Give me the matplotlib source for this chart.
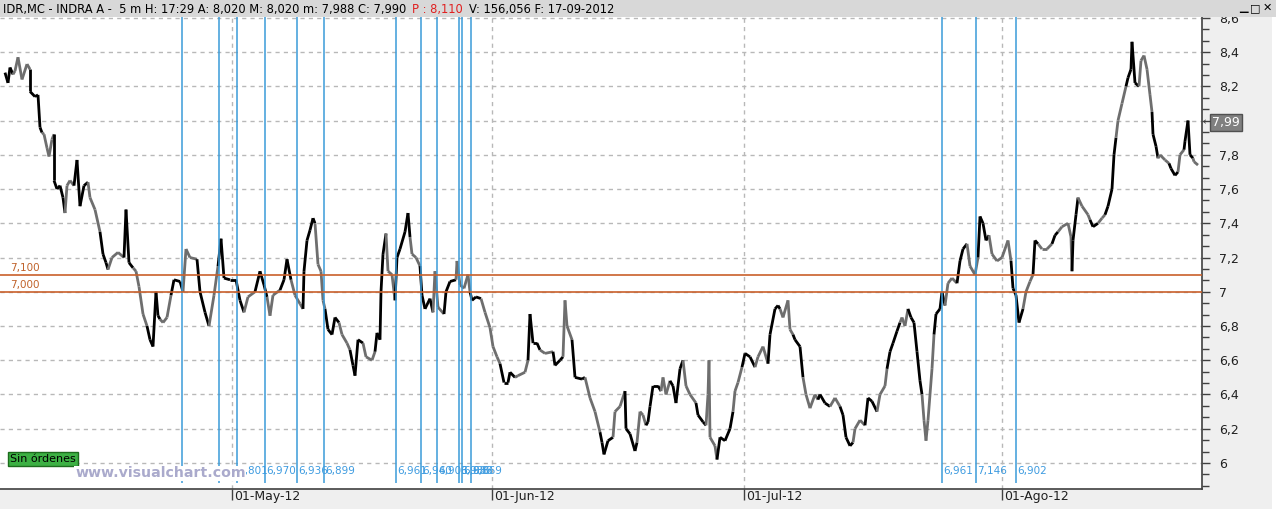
import matplotlib
matplotlib.use("Agg")
import matplotlib.pyplot as plt
from matplotlib.collections import LineCollection
from matplotlib.patches import Rectangle
from matplotlib.ticker import FixedLocator, AutoMinorLocator


# Price path (x = chart column, one run per line, k = black / g = gray)
bar_idx = [
    5, 8, 10, 13,
    15, 18, 22, 27, 30,
    30, 35, 38, 40, 42,
    44, 47, 49, 52, 54,
    54, 57, 60, 63, 65,
    67, 70, 74,
    77, 80, 84, 88,
    90, 95, 100,
    103, 106, 108,
    112, 118, 124,
    126, 129, 133,
    136, 139, 143, 147,
    150, 153, 156, 158, 160,
    163, 167, 171,
    174, 180, 183,
    186, 190, 197,
    200, 205, 209,
    214, 218,
    221, 224, 230, 236, 240, 244,
    248, 255,
    260, 264, 267,
    270, 273, 280,
    284, 287, 291,
    295, 300, 303,
    304, 307, 310, 313, 315,
    318, 321, 323, 325,
    328, 332, 335, 339,
    342, 347, 350,
    353, 355, 358, 363,
    366, 372, 375,
    377, 380, 381, 383, 386,
    388, 392, 395,
    397, 400, 405, 408, 410,
    412, 416, 420,
    422, 425, 430, 433,
    435, 438, 444,
    446, 450, 456,
    457, 460, 464, 468, 470,
    472, 476, 481,
    485, 490, 493, 497, 500,
    504, 508, 510, 515,
    518, 525, 528,
    530, 533, 537, 540,
    545, 553,
    555, 560, 563,
    565, 567, 572,
    575, 582, 585,
    590, 595, 600,
    602, 604, 608, 613,
    615, 620, 625,
    626, 630, 635, 637,
    640, 643, 646,
    648, 650, 653, 658, 661,
    663, 666, 670,
    673, 676, 680, 683,
    686, 690, 696,
    698, 703, 706,
    708, 709, 710, 715, 717,
    720, 725, 730, 733,
    735, 738, 742,
    745, 750, 755,
    758, 763, 768,
    770, 775, 778, 780,
    783, 788, 790, 793,
    795, 800, 803,
    806, 810, 815, 818,
    820, 825, 830,
    835, 840,
    843, 846, 850, 853,
    855, 860, 865,
    868, 872, 877,
    880, 885, 887,
    890, 893, 897, 900,
    902, 905, 908,
    911, 914, 917, 920, 922,
    924, 926, 928, 932, 934,
    936, 940, 942, 945,
    948, 952, 957,
    960, 963, 967,
    970, 975, 978,
    980, 983, 986, 989,
    992, 997, 1002, 1008, 1011,
    1013, 1016, 1019, 1023,
    1026, 1030, 1033,
    1035, 1038,
    1042, 1047, 1052,
    1055, 1058,
    1062, 1068, 1071, 1072,
    1073, 1076, 1078,
    1082, 1088, 1090,
    1093, 1098,
    1102, 1105,
    1108, 1112, 1114, 1116,
    1118, 1122, 1126,
    1128, 1131, 1132, 1135, 1139,
    1141, 1144, 1147, 1150, 1152,
    1153, 1156, 1158,
    1160, 1165, 1169,
    1171, 1175, 1178,
    1180, 1184,
    1185, 1188, 1190, 1193,
    1194, 1198,
]

price = [
    8.28, 8.22, 8.31, 8.27,
    8.29, 8.37, 8.24, 8.33, 8.30,
    8.17, 8.14, 8.15, 7.96, 7.93,
    7.92, 7.84, 7.79, 7.89, 7.92,
    7.65, 7.60, 7.62, 7.55, 7.46,
    7.62, 7.65, 7.62,
    7.77, 7.50, 7.62, 7.64,
    7.55, 7.48, 7.35,
    7.22, 7.17, 7.13,
    7.20, 7.23, 7.20,
    7.48, 7.17, 7.14,
    7.12, 7.03, 6.87, 6.80,
    6.72, 6.68, 7.00, 6.86, 6.84,
    6.82, 6.85, 6.98,
    7.07, 7.06, 7.00,
    7.25, 7.20, 7.19,
    7.00, 6.88, 6.80,
    6.98, 7.15,
    7.31, 7.08, 7.07, 7.07, 6.95, 6.88,
    6.97, 7.00,
    7.12, 7.04, 6.97,
    6.86, 6.98, 7.01,
    7.07, 7.19, 7.07,
    6.98, 6.93, 6.90,
    7.12, 7.30, 7.36, 7.43, 7.40,
    7.16, 7.12, 6.95, 6.90,
    6.78, 6.75, 6.85, 6.82,
    6.75, 6.70, 6.66,
    6.57, 6.51, 6.72, 6.70,
    6.62, 6.60, 6.65,
    6.76, 6.72, 7.00, 7.22, 7.34,
    7.12, 7.10, 6.95,
    7.20, 7.25, 7.35, 7.46, 7.32,
    7.22, 7.20, 7.15,
    6.98, 6.90, 6.96, 6.88,
    7.12, 6.91, 6.87,
    7.00, 7.06, 7.07,
    7.18, 7.04, 7.02, 7.10, 7.00,
    6.95, 6.97, 6.96,
    6.88, 6.79, 6.68, 6.62, 6.58,
    6.47, 6.47, 6.53, 6.50,
    6.51, 6.53, 6.60,
    6.87, 6.70, 6.70, 6.66,
    6.64, 6.65,
    6.57, 6.60, 6.62,
    6.95, 6.80, 6.72,
    6.50, 6.49, 6.50,
    6.38, 6.30, 6.18,
    6.12, 6.05, 6.13, 6.15,
    6.30, 6.33, 6.42,
    6.20, 6.17, 6.07, 6.12,
    6.30, 6.28, 6.22,
    6.24, 6.33, 6.45, 6.45, 6.42,
    6.50, 6.40, 6.48,
    6.45, 6.35, 6.55, 6.60,
    6.45, 6.40, 6.35,
    6.28, 6.24, 6.22,
    6.40, 6.60, 6.15, 6.10, 6.02,
    6.15, 6.13, 6.20, 6.30,
    6.42, 6.47, 6.56,
    6.64, 6.62, 6.56,
    6.62, 6.68, 6.58,
    6.75, 6.90, 6.92, 6.90,
    6.85, 6.95, 6.78, 6.75,
    6.72, 6.68, 6.50,
    6.40, 6.32, 6.40, 6.37,
    6.40, 6.35, 6.33,
    6.38, 6.33,
    6.28, 6.15, 6.10, 6.12,
    6.20, 6.25, 6.22,
    6.38, 6.36, 6.30,
    6.40, 6.45, 6.55,
    6.65, 6.70, 6.77, 6.82,
    6.85, 6.80, 6.90,
    6.85, 6.82, 6.65, 6.48, 6.40,
    6.25, 6.13, 6.25, 6.55, 6.75,
    6.87, 6.90, 7.00, 6.92,
    7.05, 7.08, 7.05,
    7.18, 7.25, 7.28,
    7.15, 7.10, 7.20,
    7.44, 7.40, 7.30, 7.33,
    7.22, 7.18, 7.20, 7.30, 7.18,
    7.02, 6.98, 6.82, 6.90,
    7.00, 7.06, 7.10,
    7.30, 7.28,
    7.25, 7.25, 7.28,
    7.33, 7.35,
    7.38, 7.40, 7.32, 7.12,
    7.30, 7.45, 7.55,
    7.50, 7.45, 7.42,
    7.38, 7.40,
    7.43, 7.45,
    7.50, 7.60, 7.80, 7.90,
    8.00, 8.10, 8.20,
    8.25, 8.30, 8.46, 8.22, 8.20,
    8.35, 8.38, 8.30, 8.15, 8.05,
    7.92, 7.85, 7.78,
    7.80, 7.77, 7.75,
    7.72, 7.68, 7.70,
    7.80, 7.83,
    7.88, 8.00, 7.80, 7.78,
    7.76, 7.74,
]

tone = ("kkkk ggggg kkkkk ggggg kkkkk ggg kkkk ggg kkk ggg kkk gggg kkkkk ggg kkk ggg kkk gg "
        "kkkkkk gg kkk ggg kkk ggg kkkkk gggg kkkk ggg kkkk ggg kkkkk ggg kkkkk ggg kkkk ggg "
        "kkk ggggg kkk ggggg kkkk ggg kkkk gg kkk ggg kkk ggg kkkk ggg kkkk ggg kkkkk ggg "
        "kkkk ggg kkk ggggg kkkk ggg kkk ggg kkkk gggg kkk gggg kkk gg kkkk ggg kkk ggg "
        "kkkk ggg kkkkk ggggg kkkk ggg kkk ggg kkkk ggggg kkkk ggg kk ggg kk gggg kkk ggg "
        "kk gg kkkk ggg kkkkk ggggg kkk ggg kkk gg kkkk gg").replace(" ", "")

assert len(bar_idx) == len(price) == len(tone), (len(bar_idx), len(price), len(tone))

date_pos = [232, 492, 744, 1002]
date_labels = ["01-May-12", "01-Jun-12", "01-Jul-12", "01-Ago-12"]

y_ticks = [6.0, 6.2, 6.4, 6.6, 6.8, 7.0, 7.2, 7.4, 7.6, 7.8, 8.0, 8.2, 8.4, 8.6]
# the "8" label sits under the last-price box
y_tick_labels = ["6", "6,2", "6,4", "6,6", "6,8", "7", "7,2", "7,4", "7,6", "7,8",
                 "", "8,2", "8,4", "8,6"]

order_pos = [182, 219, 236.5, 265, 296.5, 323.5, 395.5, 421, 436.5, 459, 462, 470.5,
             942, 976, 1016]
order_labels = ["", "", "6,801", "6,970", "6,936", "6,899", "6,961", "6,940", "6,903",
                "6,986", "6,988", "6,869", "6,961", "7,146", "6,902"]

level_prices = [7.1, 7.0]
level_labels = ["7,100", "7,000"]

last_price = 7.99
last_label = "7,99"

header_parts = [
    ("IDR,MC - INDRA A -  5 m H: 17:29 A: 8,020 M: 8,020 m: 7,988 C: 7,990", "#000000"),
    ("P : 8,110", "#e02020"),
    ("V: 156,056 F: 17-09-2012", "#000000"),
]


W, H = 1276, 521
fig = plt.figure(figsize=(W / 100, H / 100), dpi=100)
fig.patch.set_facecolor("white")

# window chrome: title bar, right scale panel, bottom date band
fig.add_artist(Rectangle((0, 1 - 17 / H), 1, 17 / H, transform=fig.transFigure,
                         facecolor="#d8d8d8", edgecolor="none", zorder=10))
fig.add_artist(Rectangle((1202 / W, 12 / H), 70 / W, (509 - 17) / H, transform=fig.transFigure,
                         facecolor="#efefef", edgecolor="none", zorder=-5))
fig.add_artist(Rectangle((0, 12 / H), 1272 / W, 20 / H, transform=fig.transFigure,
                         facecolor="#efefef", edgecolor="none", zorder=-5))

ax = fig.add_axes([0, 32 / H, 1202 / W, (489 - 17) / H])
ax.set_facecolor("white")
ax.set_xlim(0, 1202)
ax.set_ylim(5.848, 8.605)

for s in ["left", "top"]:
    ax.spines[s].set_visible(False)
for s in ["right", "bottom"]:
    ax.spines[s].set_color("#404040")
    ax.spines[s].set_linewidth(1.2)

# right price scale
ax.yaxis.tick_right()
ax.yaxis.set_major_locator(FixedLocator(y_ticks))
ax.set_yticklabels(y_tick_labels)
ax.yaxis.set_minor_locator(AutoMinorLocator(3))
ax.tick_params(axis="y", which="both", direction="out", color="#404040", labelsize=9,
               labelcolor="#202020", pad=6)
ax.tick_params(axis="y", which="major", length=6, width=1)
ax.tick_params(axis="y", which="minor", length=5, width=1)
ax.grid(axis="y", which="major", color="#b8b8b8", linestyle=(0, (3, 3)), linewidth=1)

# date axis
ax.set_xticks(date_pos)
ax.set_xticklabels([])
ax.tick_params(axis="x", direction="out", length=8, width=1, color="#404040")
ax.vlines(date_pos, 5.848, 8.605, colors="#b8b8b8", linestyles=(0, (3, 3)), linewidth=1)
for xp, lab in zip(date_pos, date_labels):
    ax.text(xp + 2, -0.003, lab, transform=ax.get_xaxis_transform(), ha="left", va="top",
            fontsize=9, color="#202020", clip_on=False)

# price path, colour per run
pts = list(zip(bar_idx, price))
segs = [[pts[i - 1], pts[i]] for i in range(1, len(pts))]
cols = ["#000000" if t == "k" else "#6e6e6e" for t in tone[1:]]
ax.add_collection(LineCollection(segs, colors=cols, linewidths=2.0, zorder=3))

# order lines
ax.vlines(order_pos, 5.883, 8.605, colors="#3b9bd8", linewidth=1.1, zorder=4)
for xp, lab in zip(order_pos, order_labels):
    ax.text(xp + 1.5, 5.953, lab, ha="left", va="center", fontsize=7.5, color="#3d9be0",
            zorder=5)

# horizontal levels
for lv, lab in zip(level_prices, level_labels):
    ax.axhline(lv, color="#c9602b", linewidth=1.2, zorder=4)
    ax.text(10, lv + 0.012, lab, ha="left", va="bottom", fontsize=7.5, color="#c0622a",
            zorder=5)

ax.text(10, 6.023, "Sin órdenes", ha="left", va="center", fontsize=8, color="#000000",
        zorder=6, bbox=dict(boxstyle="square,pad=0.2", facecolor="#3cb043", edgecolor="#1d6b1d"))
ax.text(75, 5.94, "www.visualchart.com", ha="left", va="center", fontsize=10.2,
        fontweight="bold", color="#aaaacc", zorder=7,
        bbox=dict(boxstyle="square,pad=0.05", facecolor="white", edgecolor="none"))

# last price marker on the scale
ax.text(1212, last_price, last_label, ha="left", va="center", fontsize=9, color="white",
        clip_on=False, zorder=8,
        bbox=dict(boxstyle="square,pad=0.15", facecolor="#808080", edgecolor="#505050"))
ax.text(1203, last_price, "←", ha="left", va="center", fontsize=7, color="#404040",
        clip_on=False, zorder=8)

# header line
renderer = fig.canvas.get_renderer()
xh = 3
for txt, col in header_parts:
    t = fig.text(xh / W, 1 - 9 / H, txt, ha="left", va="center", fontsize=8.3, color=col,
                 zorder=11)
    bb = t.get_window_extent(renderer=renderer)
    xh = bb.x1 + 6

# window buttons
for xb, glyph in zip([1243, 1255, 1267], ["▁", "□", "✕"]):
    fig.text(xb / W, 1 - 8 / H, glyph, ha="center", va="center", fontsize=8,
             color="#000000", zorder=11)

fig.savefig("out.png", dpi=100)
